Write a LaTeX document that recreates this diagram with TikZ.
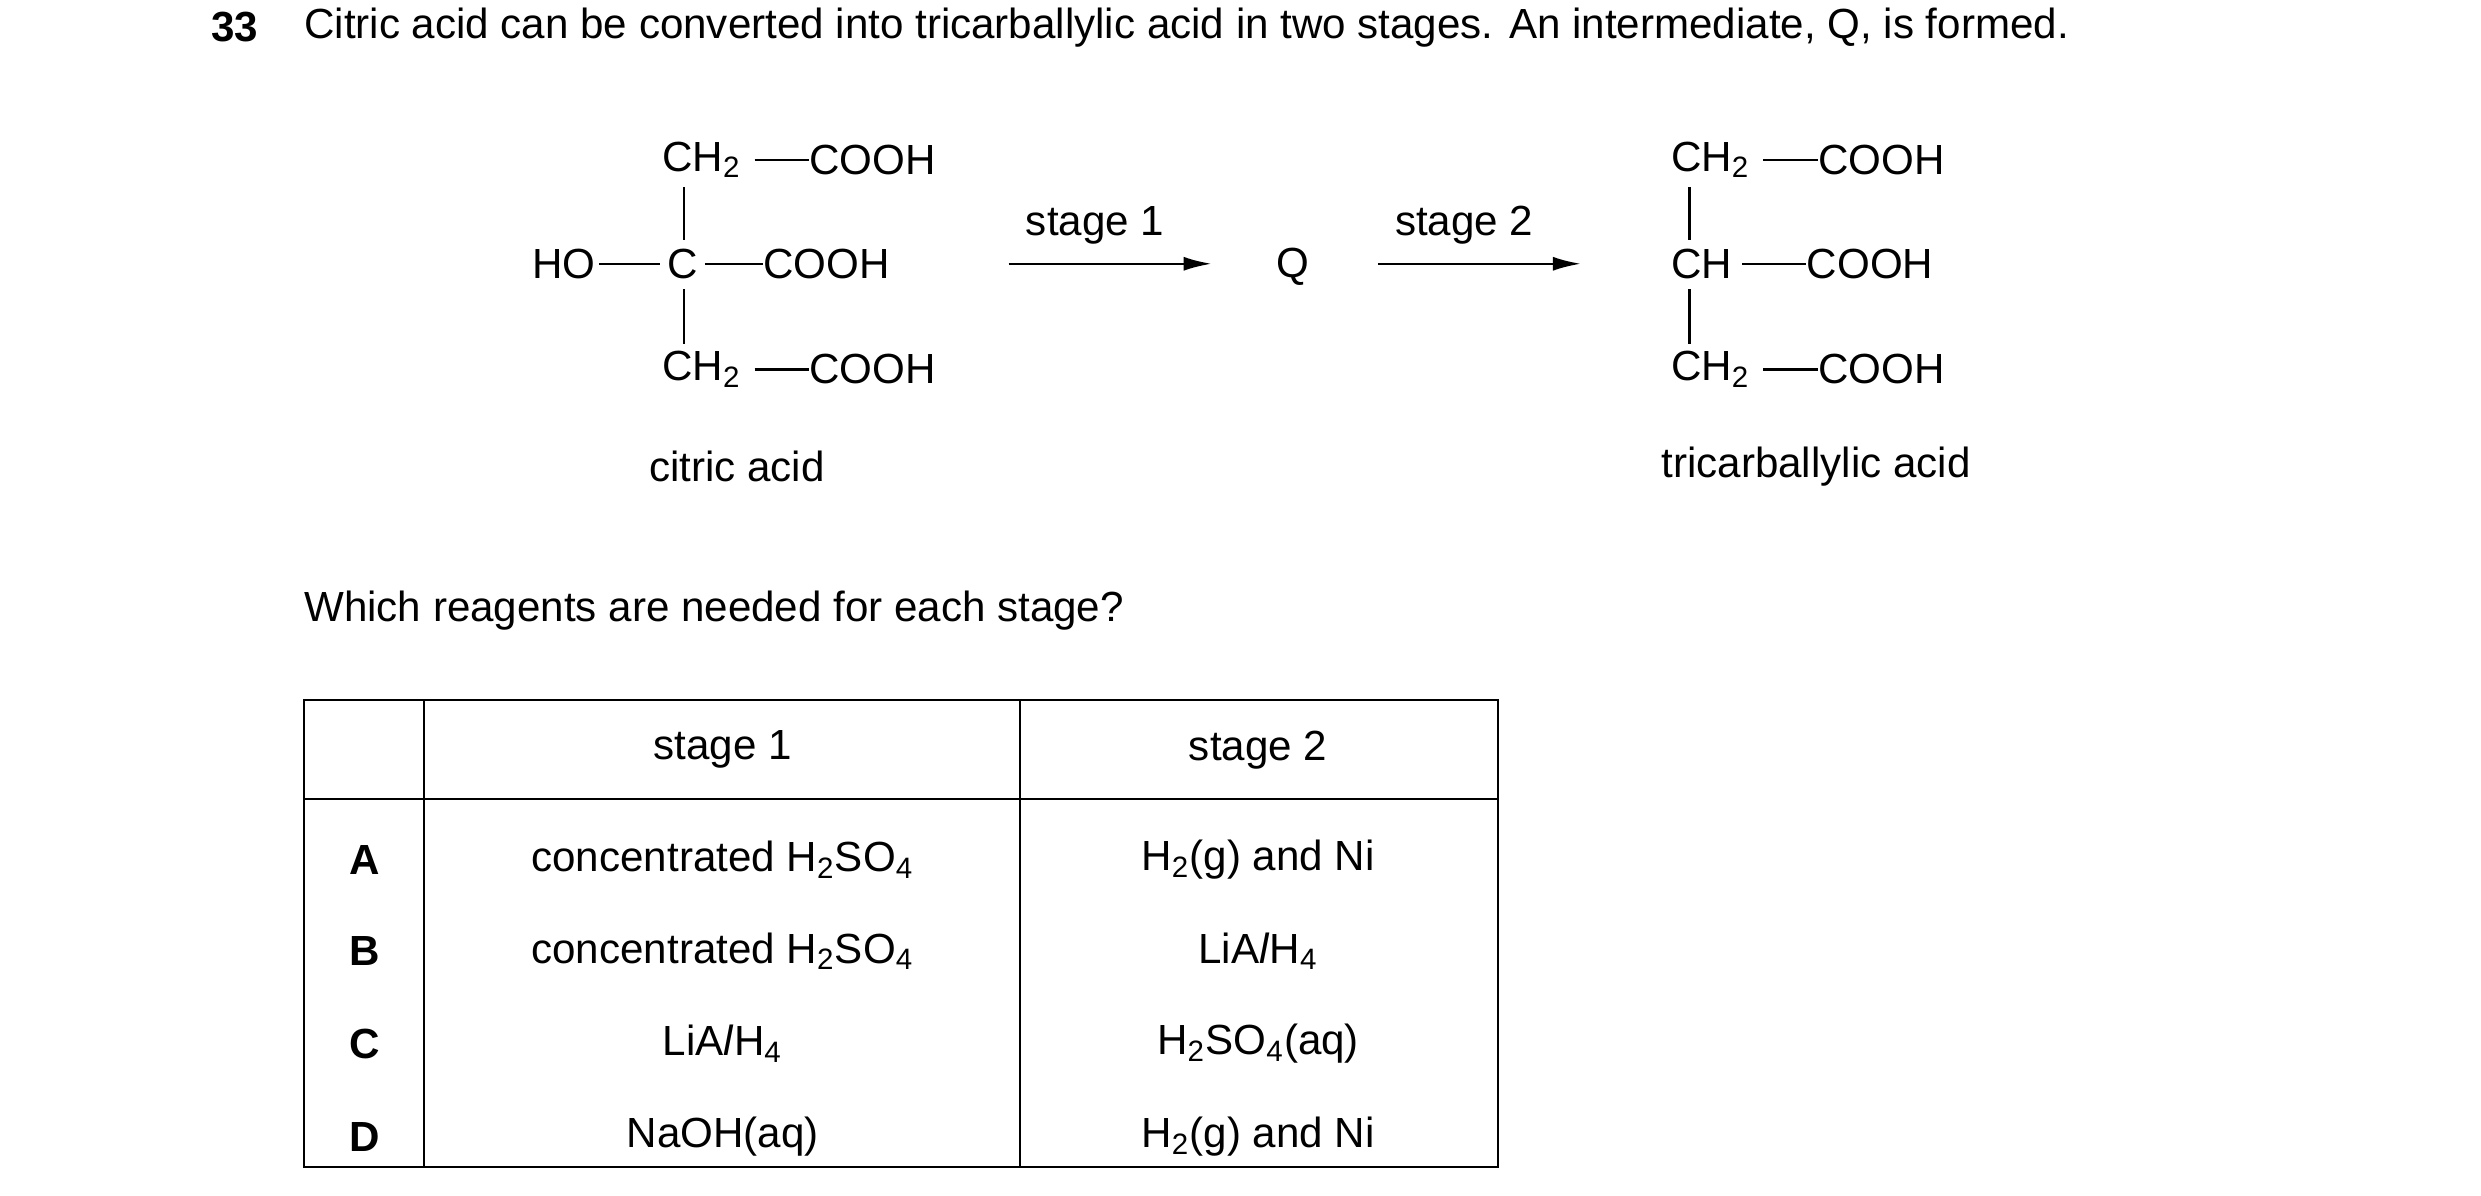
\documentclass[tikz,border=0pt]{standalone}
\usepackage{fontspec}
\setmainfont{Liberation Sans}
\usetikzlibrary{arrows.meta}
\begin{document}
\begin{tikzpicture}[x=0.02cm,y=-0.02cm,
  every node/.style={inner sep=0pt,font=\fontsize{15pt}{18pt}\selectfont},
  bond/.style={line width=0.9pt},
  arr/.style={line width=0.9pt,-{Latex[length=10pt,width=5pt]}},
  tab/.style={line width=0.8pt}]
\useasboundingbox (0,0) rectangle (1552,748);
\node[font=\fontsize{15pt}{18pt}\selectfont\bfseries] (n33) at (147,17) {33};
\node[anchor=west] (intro) at (190,17) {Citric acid can be converted into tricarballylic acid in two stages. An intermediate, Q, is formed.};
% citric acid
\node[anchor=west] (c1) at (414,100) {CH\textsubscript{2}};
\node[anchor=west] (c1r) at (506,100) {COOH};
\node[anchor=east] (ho) at (373,165) {HO};
\node (cc) at (427,165) {C};
\node[anchor=west] (c2r) at (477,165) {COOH};
\node[anchor=west] (c3) at (414,231) {CH\textsubscript{2}};
\node[anchor=west] (c3r) at (506,231) {COOH};
\draw[bond] (472,100) -- (c1r.west);
\draw[bond] (ho.east) ++(2,0) -- (413,165);
\draw[bond] (441,165) -- (c2r.west);
\draw[bond] (472,231) -- (c3r.west);
\draw[bond] (428,117) -- (428,150);
\draw[bond] (428,181) -- (428,215);
\node (cit) at (461,292) {citric acid};
% arrows
\coordinate (a1s) at (631,165); \coordinate (a1e) at (758,165);
\coordinate (a2s) at (862,165); \coordinate (a2e) at (989,165);
\draw[arr] (a1s) -- (a1e);
\draw[arr] (a2s) -- (a2e);
\node (s1) at (685,141) {stage 1};
\node (s2) at (916,141) {stage 2};
\node (q) at (809,167) {Q};
% tricarballylic
\node[anchor=west] (t1) at (1045,100) {CH\textsubscript{2}};
\node[anchor=west] (t1r) at (1137,100) {COOH};
\node[anchor=west] (t2) at (1045,165) {CH};
\node[anchor=west] (t2r) at (1130,165) {COOH};
\node[anchor=west] (t3) at (1045,231) {CH\textsubscript{2}};
\node[anchor=west] (t3r) at (1137,231) {COOH};
\draw[bond] (1103,100) -- (t1r.west);
\draw[bond] (1090,165) -- (t2r.west);
\draw[bond] (1103,231) -- (t3r.west);
\draw[bond] (1057,117) -- (1057,150);
\draw[bond] (1057,181) -- (1057,215);
\node (tri) at (1136,292) {tricarballylic acid};
\node[anchor=west] (which) at (190,382) {Which reagents are needed for each stage?};
% table
\draw[tab] (190,438) rectangle (937,730);
\draw[tab] (190,500) -- (937,500);
\draw[tab] (265,438) -- (265,730);
\draw[tab] (638,438) -- (638,730);
\node (h1) at (452,469) {stage 1};
\node (h2) at (787,469) {stage 2};
\foreach \l/\y/\a/\b in {
 A/538/{concentrated H\textsubscript{2}SO\textsubscript{4}}/{H\textsubscript{2}(g) and Ni},
 B/595/{concentrated H\textsubscript{2}SO\textsubscript{4}}/{LiA\textit{l}H\textsubscript{4}},
 C/653/{LiA\textit{l}H\textsubscript{4}}/{H\textsubscript{2}SO\textsubscript{4}(aq)},
 D/711/{NaOH(aq)}/{H\textsubscript{2}(g) and Ni}}{
 \node[font=\fontsize{15pt}{18pt}\selectfont\bfseries] (l\l) at (228,\y) {\l};
 \node (p\l) at (452,\y) {\a};
 \node (r\l) at (787,\y) {\b};
}
\end{tikzpicture}
\end{document}
